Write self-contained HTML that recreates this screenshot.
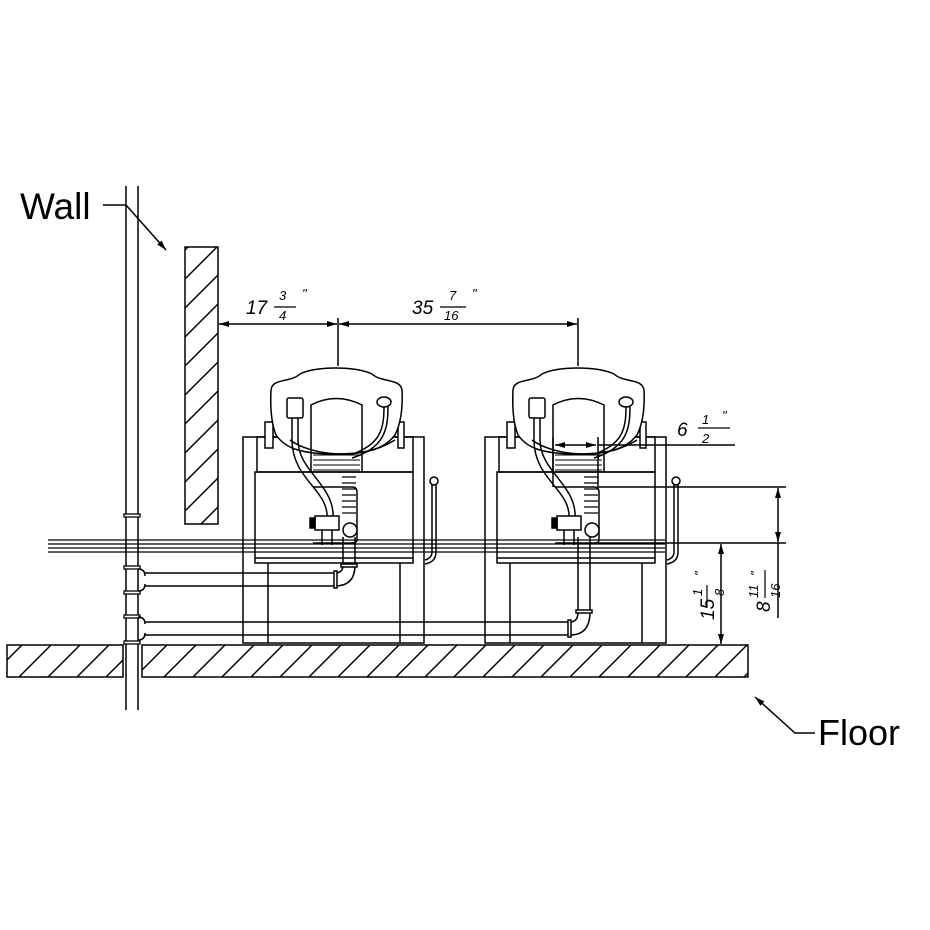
<!DOCTYPE html>
<html><head><meta charset="utf-8"><style>
html,body{margin:0;padding:0;background:#fff;}
svg{display:block;}
text{font-family:"Liberation Sans",sans-serif;fill:#000;}
.d{font-style:italic;}
</style></head><body>
<svg width="930" height="930" viewBox="0 0 930 930" xmlns="http://www.w3.org/2000/svg">
<defs>
<marker id="a" viewBox="0 0 10 6" refX="10" refY="3" markerWidth="10" markerHeight="6" orient="auto-start-reverse" markerUnits="userSpaceOnUse"><path d="M0,0L10,3L0,6z" fill="#000"/></marker>
<pattern id="h" width="29" height="29" patternUnits="userSpaceOnUse">
<path d="M-5,34L34,-5M-5,5L5,-5M24,34L34,24" stroke="#000" stroke-width="1.5"/>
</pattern>
<g id="unit" fill="none" stroke="#000" stroke-width="1.5">
<rect x="243" y="437" width="181" height="206"/>
<rect x="257" y="437" width="156" height="35"/>
<rect x="255" y="472" width="158" height="91"/>
<line x1="255" y1="558" x2="413" y2="558"/>
<line x1="268" y1="563" x2="268" y2="643"/>
<line x1="400" y1="563" x2="400" y2="643"/>
<rect x="265" y="422" width="8" height="26" fill="#fff"/>
<rect x="398" y="422" width="6" height="26" fill="#fff"/>
<path d="M271,390 C272,378 290,383 300,374 C315,366 355,366 372,374 C382,383 400,378 402,390 C403,410 400,425 395,435 C385,448 370,454 336,454 C300,454 285,448 276,435 C272,425 270,410 271,390Z" fill="#fff"/>
<path d="M311,453 L311,405 Q336,392 362,405 L362,453"/>
<path d="M313,455 H360 M313,460 H360 M313,465 H360 M313,470 H360" stroke-width="1"/>
<line x1="311" y1="453" x2="311" y2="472"/><line x1="362" y1="453" x2="362" y2="472"/>
<rect x="287" y="398" width="16" height="20" rx="2"/>
<ellipse cx="384" cy="402" rx="7" ry="5"/>
<path d="M292,418 L292,440 C292,480 330,490 327,520 M298,418 L298,440 C298,472 336,485 333,520"/>
<path d="M384,407 C384,430 380,445 350,455 M388,407 C388,430 384,448 352,458"/>
<path d="M290,440 C310,455 360,462 395,440"/>
<path d="M313,487 H352 Q357,487 357,492 V540 Q357,543 352,543 H313"/>
<path d="M342,477 H356 M342,483 H356 M342,489 H356 M342,495 H356 M342,501 H356 M342,507 H356 M342,513 H356" stroke-width="1.2"/>
<rect x="315" y="516" width="24" height="14" fill="#fff"/>
<rect x="310" y="518" width="5" height="10" fill="#000"/>
<path d="M322,530 V545 M332,530 V545"/>
<circle cx="350" cy="530" r="7" fill="#fff"/>
<circle cx="434" cy="481" r="4"/>
<path d="M432,485 V552 Q432,558 425,560 M436,485 V552 Q436,562 425,564"/>
</g>
</defs>
<rect width="930" height="930" fill="#fff"/>
<g stroke="#000" stroke-width="1.3">
<line x1="48" y1="540" x2="665" y2="540"/><line x1="48" y1="544" x2="665" y2="544"/>
<line x1="48" y1="548" x2="665" y2="548"/><line x1="48" y1="552" x2="665" y2="552"/>
</g>
<g fill="none" stroke="#000" stroke-width="1.5">
<line x1="126" y1="186" x2="126" y2="710"/><line x1="138" y1="186" x2="138" y2="710"/>
</g>
<g fill="#fff" stroke="#000" stroke-width="1.3">
<rect x="124" y="514" width="16" height="3"/><rect x="124" y="566" width="16" height="3"/>
<rect x="124" y="591" width="16" height="3"/><rect x="124" y="615" width="16" height="3"/>
<rect x="124" y="641" width="16" height="3"/>
</g>
<g fill="none" stroke="#000" stroke-width="1.5">
<path d="M145,573 H335 M145,586 H335"/>
<path d="M138,569 Q145,569 145,576 M138,591 Q145,591 145,584"/>
<path d="M145,622 H570 M145,635 H570"/>
<path d="M138,617 Q145,617 145,624 M138,640 Q145,640 145,633"/>
<path d="M335,573 Q343,573 343,565 M335,586 Q355,586 355,565"/>
<line x1="343" y1="537" x2="343" y2="566"/><line x1="355" y1="537" x2="355" y2="566"/>
<rect x="341" y="564" width="16" height="3" fill="#fff"/>
<rect x="334" y="571" width="3" height="17" fill="#fff"/>
<path d="M570,622 Q578,622 578,612 M570,635 Q590,635 590,612"/>
<line x1="578" y1="537" x2="578" y2="612"/><line x1="590" y1="537" x2="590" y2="612"/>
<rect x="576" y="610" width="16" height="3" fill="#fff"/>
<rect x="568" y="620" width="3" height="17" fill="#fff"/>
</g>
<use href="#unit"/>
<use href="#unit" x="242"/>
<rect x="185" y="247" width="33" height="277" fill="url(#h)" stroke="#000" stroke-width="1.5"/>
<rect x="7" y="645" width="116" height="32" fill="url(#h)" stroke="#000" stroke-width="1.5"/>
<rect x="142" y="645" width="606" height="32" fill="url(#h)" stroke="#000" stroke-width="1.5"/>
<g stroke="#000" stroke-width="1.5" fill="none">
<line x1="338" y1="318" x2="338" y2="366"/><line x1="578" y1="318" x2="578" y2="366"/>
<line x1="219" y1="324" x2="337" y2="324" marker-start="url(#a)" marker-end="url(#a)"/>
<line x1="339" y1="324" x2="577" y2="324" marker-start="url(#a)" marker-end="url(#a)"/>
<line x1="553" y1="437" x2="553" y2="487"/><line x1="598" y1="437" x2="598" y2="487"/>
<line x1="598" y1="445" x2="735" y2="445"/>
<line x1="555" y1="445" x2="596" y2="445" marker-start="url(#a)" marker-end="url(#a)"/>
<line x1="598" y1="487" x2="786" y2="487"/><line x1="598" y1="543" x2="786" y2="543"/>
<line x1="778" y1="488" x2="778" y2="542" marker-start="url(#a)" marker-end="url(#a)"/>
<line x1="778" y1="543" x2="778" y2="618"/>
<line x1="721" y1="544" x2="721" y2="644" marker-start="url(#a)" marker-end="url(#a)"/>
<line x1="274" y1="307" x2="296" y2="307" stroke-width="1.2"/>
<line x1="440" y1="307" x2="466" y2="307" stroke-width="1.2"/>
<line x1="698" y1="428" x2="730" y2="428" stroke-width="1.2"/>
<line x1="707" y1="585" x2="707" y2="608" stroke-width="1.2"/>
<line x1="765" y1="570" x2="765" y2="598" stroke-width="1.2"/>
<path d="M103,205 H126 L166,250" marker-end="url(#a)"/>
<path d="M815,733 H795 L755,697" marker-end="url(#a)"/>
</g>
<g class="d">
<text x="246" y="314" font-size="19">17</text>
<text x="279" y="300" font-size="13">3</text><text x="279" y="320" font-size="13">4</text>
<text x="302" y="298" font-size="13">"</text>
<text x="412" y="314" font-size="19">35</text>
<text x="449" y="300" font-size="13">7</text><text x="444" y="320" font-size="13">16</text>
<text x="472" y="298" font-size="13">"</text>
<text x="677" y="436" font-size="19">6</text>
<text x="702" y="424" font-size="13">1</text><text x="702" y="443" font-size="13">2</text>
<text x="722" y="420" font-size="13">"</text>
<g transform="translate(714,620) rotate(-90)"><text x="0" y="0" font-size="19">15</text><text x="24" y="-12" font-size="13">1</text><text x="24" y="10" font-size="13">8</text><text x="44" y="-10" font-size="13">"</text></g>
<g transform="translate(770,612) rotate(-90)"><text x="0" y="0" font-size="19">8</text><text x="14" y="-12" font-size="13">11</text><text x="14" y="10" font-size="13">16</text><text x="36" y="-10" font-size="13">"</text></g>
</g>
<text x="20" y="219" font-size="37">Wall</text>
<text x="818" y="745" font-size="36">Floor</text>
</svg>
</body></html>
